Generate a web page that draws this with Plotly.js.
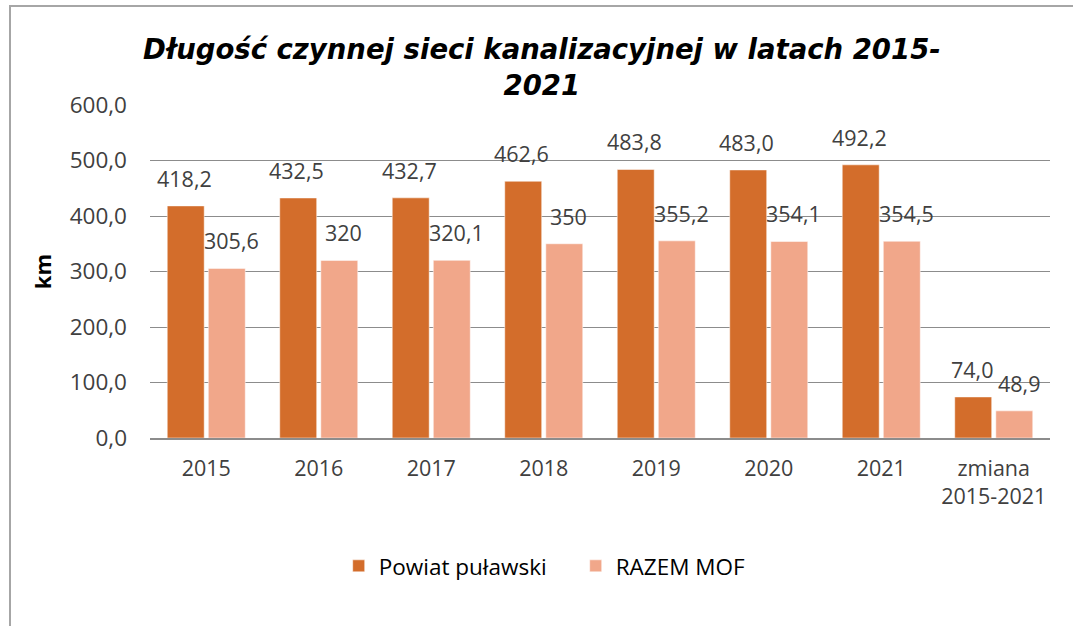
<!DOCTYPE html>
<html>
<head>
<meta charset="utf-8">
<script src="https://cdn.plot.ly/plotly-3.0.1.min.js"></script>
<style>
  html, body { margin: 0; padding: 0; background: #fff; }
  #frame { position: absolute; left: 0; top: 0; width: 1073px; height: 626px; }
  #edge { position: absolute; left: 9px; top: 5px; width: 1064px; height: 621px;
          border-top: 2px solid #a6a6a6; border-left: 2px solid #a6a6a6; pointer-events: none; }
  #chart { position: absolute; left: 0; top: 0; width: 1073px; height: 626px; }
</style>
</head>
<body>
<div id="frame">
  <div id="chart"></div>
  <div id="edge"></div>
</div>
<script>
// ---- data ----
const categories = ["2015", "2016", "2017", "2018", "2019", "2020", "2021", "zmiana<br>2015-2021"];
const powiatName = "Powiat puławski";
const powiatValues = [418.2, 432.5, 432.7, 462.6, 483.8, 483.0, 492.2, 74.0];
const powiatLabels = ["418,2", "432,5", "432,7", "462,6", "483,8", "483,0", "492,2", "74,0"];
const mofName = "RAZEM MOF";
const mofValues = [305.6, 320, 320.1, 350, 355.2, 354.1, 354.5, 48.9];
const mofLabels = ["305,6", "320", "320,1", "350", "355,2", "354,1", "354,5", "48,9"];
const titleText = "Długość czynnej sieci kanalizacyjnej w latach 2015-<br>2021";
const yTitle = "km";

// ---- styles ----
const C_POWIAT = "#D36D2B";
const C_MOF = "#F1A78A";
const TXT = "#404040";
const FONT = "Open Sans, Noto Sans, sans-serif";
const FS = 21.5;

const traces = [
  { type: "bar", name: powiatName, x: categories, y: powiatValues,
    marker: { color: C_POWIAT, line: { color: "#ffffff", width: 0.5 } }, hoverinfo: "skip" },
  { type: "bar", name: mofName, x: categories, y: mofValues,
    marker: { color: C_MOF, line: { color: "#ffffff", width: 0.5 } }, hoverinfo: "skip" }
];

// data labels, placed above each bar of the grouped pair (x = category index)
const annotations = [];
const shiftPx = 22;
categories.forEach((c, i) => {
  annotations.push({ x: i, y: powiatValues[i], xref: "x", yref: "y", text: powiatLabels[i],
    showarrow: false, xanchor: "center", yanchor: "bottom", xshift: -shiftPx, yshift: 11,
    font: { family: FONT, size: FS, color: TXT } });
  annotations.push({ x: i, y: mofValues[i], xref: "x", yref: "y", text: mofLabels[i],
    showarrow: false, xanchor: "center", yanchor: "bottom", xshift: shiftPx + 3, yshift: 11,
    font: { family: FONT, size: FS, color: TXT } });
});

const layout = {
  width: 1073, height: 626,
  paper_bgcolor: "rgba(0,0,0,0)", plot_bgcolor: "rgba(0,0,0,0)",
  margin: { l: 150, r: 23, t: 105, b: 188 },
  separators: ", ",
  font: { family: FONT, color: TXT, size: FS },
  title: {
    text: titleText,
    font: { family: "DejaVu Sans, sans-serif", size: 27.5, weight: "bold", style: "italic", color: "#000000" },
    x: 0.505, xanchor: "center", xref: "container",
    y: 0.905, yanchor: "top", yref: "container"
  },
  barmode: "group", bargap: 0.27, bargroupgap: 0.1,
  xaxis: {
    type: "category", showgrid: false, zeroline: false,
    showline: true, linecolor: "#8c8c8c", linewidth: 1.5,
    ticks: "", tickfont: { family: FONT, size: FS, color: TXT },
    ticklabelstandoff: 11, range: [-0.5, categories.length - 0.5]
  },
  yaxis: {
    range: [0, 600], dtick: 100, tickformat: ".1f",
    showgrid: true, gridcolor: "#8c8c8c", gridwidth: 1,
    zeroline: false, showline: false, ticks: "",
    tickfont: { family: FONT, size: 22.5, color: TXT },
    ticklabelstandoff: 22,
    title: { text: yTitle, font: { family: FONT, size: 22, weight: "bold", color: "#000000" }, standoff: 12 }
  },
  showlegend: true,
  legend: {
    orientation: "h", x: 0.473, xanchor: "center", y: -0.385, yanchor: "middle",
    font: { family: FONT, size: 22.5, color: "#000000" }, itemwidth: 30, tracegroupgap: 0,
    entrywidth: 192
  },
  annotations: annotations
};

Plotly.newPlot("chart", traces, layout, { staticPlot: true, displayModeBar: false });
</script>
</body>
</html>
